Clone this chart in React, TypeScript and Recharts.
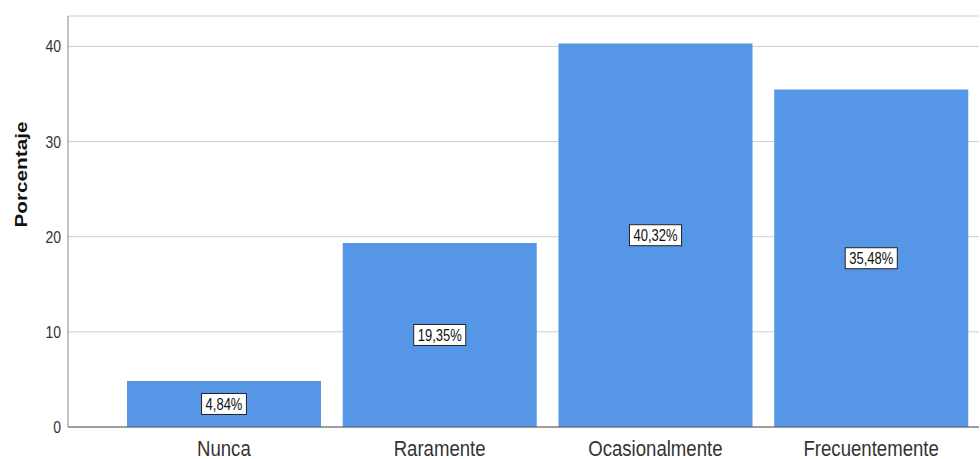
import React from 'react';
import { BarChart, Bar, XAxis, YAxis, CartesianGrid, LabelList } from 'recharts';

const categories = ['Nunca', 'Raramente', 'Ocasionalmente', 'Frecuentemente'];
const percentages = [4.84, 19.35, 40.32, 35.48];
const yTicks = [0, 10, 20, 30, 40];
const yTitle = 'Porcentaje';

const data = categories.map((c, i) => ({ name: c, value: percentages[i] }));

const STRETCH = 1.22;
const FONT = "'Liberation Sans', Arial, sans-serif";

let ctx: CanvasRenderingContext2D | null = null;
function measure(text: string, font: string): number {
  if (!ctx) {
    const c = document.createElement('canvas');
    ctx = c.getContext('2d');
  }
  if (!ctx) return text.length * 7;
  ctx.font = font;
  return ctx.measureText(text).width;
}

const fmt = (v: number) => v.toFixed(2).replace('.', ',') + '%';

const XTick = (props: any) => {
  const { x, payload } = props;
  return (
    <g transform={`translate(${x},456) scale(1,${STRETCH})`}>
      <text x={0} y={0} textAnchor="middle" fontSize={18.6} fontFamily={FONT} fill="#333">
        {payload.value}
      </text>
    </g>
  );
};

const YTick = (props: any) => {
  const { y, payload } = props;
  return (
    <g transform={`translate(61,${y + 6}) scale(1,${STRETCH})`}>
      <text x={0} y={0} textAnchor="end" fontSize={14} fontFamily={FONT} fill="#333">
        {payload.value}
      </text>
    </g>
  );
};

const BoxLabel = (props: any) => {
  const { x, y, width, height, value } = props;
  const cx = x + width / 2;
  const cy = y + height / 2;
  const txt = fmt(Number(value));
  const tw = measure(txt, `13px ${FONT}`);
  const bw = tw + 8;
  const bh = 21;
  return (
    <g>
      <rect x={cx - bw / 2} y={cy - bh / 2} width={bw} height={bh} fill="#fff" stroke="#222" strokeWidth={1} />
      <g transform={`translate(${cx},${cy + 5.6}) scale(1,${STRETCH})`}>
        <text x={0} y={0} textAnchor="middle" fontSize={13} fontFamily={FONT} fill="#111">
          {txt}
        </text>
      </g>
    </g>
  );
};

const YTitle = () => (
  <g transform={`translate(27,174.5) scale(1,${STRETCH}) rotate(-90)`}>
    <text x={0} y={0} textAnchor="middle" fontSize={17} fontWeight="bold" fontFamily={FONT} fill="#111">
      {yTitle}
    </text>
  </g>
);

export default function App() {
  return (
    <div style={{ position: 'absolute', left: 0, top: 0, width: 980, height: 459, background: '#fff' }}>
      <BarChart
        width={980}
        height={459}
        data={data}
        margin={{ top: 16, right: 1, bottom: 0, left: 0 }}
        barCategoryGap={11}
      >
        <CartesianGrid vertical={false} stroke="#cfcfcf" strokeWidth={1} />
        <XAxis
          dataKey="name"
          height={32}
          padding={{ left: 48, right: 0 }}
          tickLine={false}
          axisLine={{ stroke: '#555', strokeWidth: 1 }}
          tick={<XTick />}
          interval={0}
        />
        <YAxis
          width={68}
          domain={[0, 43.2]}
          ticks={yTicks}
          tickLine={false}
          axisLine={{ stroke: '#999', strokeWidth: 1.2 }}
          tick={<YTick />}
          label={{ content: () => <YTitle /> }}
          allowDataOverflow
        />
        <Bar dataKey="value" fill="#5596E6" isAnimationActive={false}>
          <LabelList dataKey="value" content={<BoxLabel />} />
        </Bar>
      </BarChart>
    </div>
  );
}
